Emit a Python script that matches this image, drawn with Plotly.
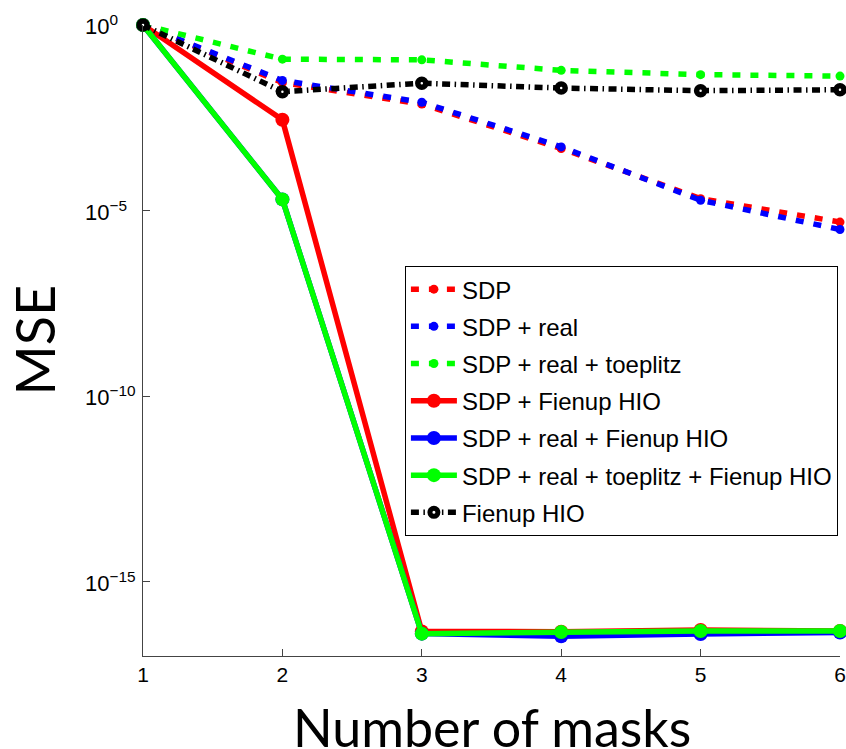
import math
import plotly.graph_objects as go

# ---- data ----
masks = [1, 2, 3, 4, 5, 6]

mse_sdp = [1.0, 2.8e-2, 7.4e-3, 4.7e-4, 2.1e-5, 4.9e-6]
mse_sdp_real = [1.0, 3.2e-2, 8.3e-3, 5.2e-4, 1.9e-5, 3.1e-6]
mse_sdp_real_toep = [1.0, 1.2e-1, 1.15e-1, 6.0e-2, 4.6e-2, 4.2e-2]
mse_sdp_hio = [1.0, 2.8e-3, 4.6e-17, 4.5e-17, 5.0e-17, 4.7e-17]
mse_sdp_real_hio = [1.0, 2.0e-5, 4.0e-17, 3.4e-17, 3.9e-17, 4.3e-17]
mse_sdp_real_toep_hio = [1.0, 2.0e-5, 4.0e-17, 4.4e-17, 4.7e-17, 4.7e-17]
mse_hio = [1.0, 1.6e-2, 2.7e-2, 2.0e-2, 1.7e-2, 1.8e-2]

series_names = [
    "SDP",
    "SDP + real",
    "SDP + real + toeplitz",
    "SDP + Fienup HIO",
    "SDP + real + Fienup HIO",
    "SDP + real + toeplitz + Fienup HIO",
    "Fienup HIO",
]
series_values = [
    mse_sdp, mse_sdp_real, mse_sdp_real_toep,
    mse_sdp_hio, mse_sdp_real_hio, mse_sdp_real_toep_hio,
    mse_hio,
]

y_tick_values = [1e0, 1e-5, 1e-10, 1e-15]
y_tick_labels = ["10<sup>0</sup>", "10<sup>\u22125</sup>",
                 "10<sup>\u221210</sup>", "10<sup>\u221215</sup>"]
x_tick_values = [1, 2, 3, 4, 5, 6]

x_title = "Number of masks"
y_title = "MSE"

# ---- styles ----
colors = ["#FF0000", "#0000FF", "#00FF00", "#FF0000", "#0000FF", "#00FF00", "#000000"]
dashes = ["8px,10px", "8px,10px", "8px,10px", "solid", "solid", "solid",
          "8px,4.5px,1.5px,4.5px"]

fig = go.Figure()
for i, (name, vals) in enumerate(zip(series_names, series_values)):
    if i < 3:
        marker = dict(symbol="circle", size=9, color=colors[i])
    elif i < 6:
        marker = dict(symbol="circle", size=14, color=colors[i])
    else:
        marker = dict(symbol="circle", size=8, color="white",
                      line=dict(color="black", width=5.5))
    fig.add_trace(go.Scatter(
        x=masks, y=vals, name=name, mode="lines+markers",
        line=dict(color=colors[i], width=5.5, dash=dashes[i]),
        marker=marker, cliponaxis=False, legendgroup="g%d" % i,
    ))

axis_color = "#444444"
fig.update_layout(
    width=846, height=749,
    margin=dict(l=143, r=6, t=25, b=93, autoexpand=False),
    paper_bgcolor="white", plot_bgcolor="white",
    font=dict(family="Liberation Sans, Arial, sans-serif", color="black"),
    showlegend=True,
    legend=dict(
        x=0.997, xanchor="right", y=0.618, yanchor="top",
        bordercolor="black", borderwidth=1, bgcolor="white",
        font=dict(size=24, family="Liberation Sans, Arial, sans-serif"),
        tracegroupgap=3, itemwidth=46,
    ),
    xaxis=dict(
        range=[1, 6], tickvals=x_tick_values, ticks="inside", ticklen=7,
        tickcolor=axis_color, showline=True, linecolor=axis_color, linewidth=1,
        showgrid=False, zeroline=False, tickfont=dict(size=21),
        ticklabelstandoff=0, automargin=False,
    ),
    yaxis=dict(
        type="log", range=[-17, 0], tickvals=y_tick_values, ticks="inside",
        ticklen=7, tickcolor=axis_color, showline=True, linecolor=axis_color,
        linewidth=1, showgrid=False, zeroline=False, showticklabels=False,
        automargin=False,
    ),
)

for v, lab in zip(y_tick_values, y_tick_labels):
    fig.add_annotation(
        x=0, xref="paper", xanchor="left", xshift=-60,
        y=math.log10(v), yref="y", yanchor="middle",
        text=lab, showarrow=False, font=dict(size=22),
    )

# axis titles
fig.add_annotation(
    x=0.5, xref="paper", xanchor="center",
    y=0, yref="paper", yanchor="middle", yshift=-71,
    text=x_title, showarrow=False,
    font=dict(size=52, family="Lato, sans-serif"),
)
fig.add_annotation(
    x=0, xref="paper", xanchor="center", xshift=-109,
    y=0.5, yref="paper", yanchor="middle",
    text=y_title, textangle=-90, showarrow=False,
    font=dict(size=54, family="Lato, sans-serif"),
)

fig.write_html("out.html", config={"displayModeBar": False},
               post_script="document.body.style.margin='0';")
